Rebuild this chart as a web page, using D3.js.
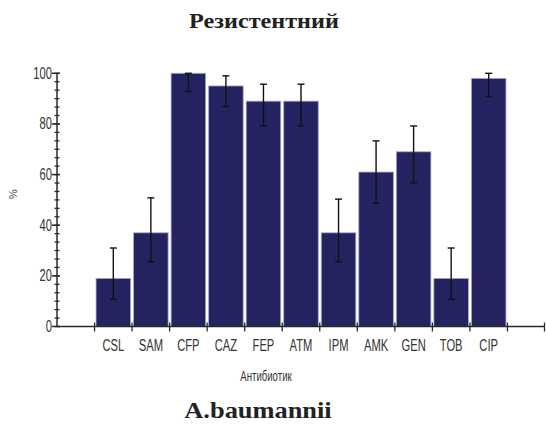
<!DOCTYPE html>
<html>
<head>
<meta charset="utf-8">
<script src="https://cdn.jsdelivr.net/npm/d3@7"></script>
<style>
  html, body { margin: 0; padding: 0; background: #fff; }
  svg { display: block; }
  .narrow { font-family: "Liberation Sans Narrow", "Arial Narrow", "Liberation Sans", sans-serif; }
  .serif { font-family: "Liberation Serif", "Times New Roman", serif; font-weight: bold; }
</style>
</head>
<body>
<svg id="chart" width="546" height="427"></svg>
<script>
// Resistance (%) by antibiotic, with error-bar bounds
const antibiotics = ["CSL", "SAM", "CFP", "CAZ", "FEP", "ATM", "IPM", "AMK", "GEN", "TOB", "CIP"];
const resistant   = [19, 37, 100, 95, 89, 89, 37, 61, 69, 19, 98];
const errLow      = [10.7, 25.5, 92.8, 86.9, 79.2, 79.2, 25.5, 48.7, 56.7, 10.7, 90.8];
const errHigh     = [31, 50.8, 100, 99, 95.7, 95.7, 50.3, 73.3, 79.2, 31, 100];
const yTicks      = [0, 20, 40, 60, 80, 100];

const chartTitle = "Резистентний";
const xTitle = "Антибиотик";
const yTitle = "%";
const caption = "A.baumannii";

const svg = d3.select("#chart");
const plot = { left: 57, right: 545, top: 73.3, bottom: 326.5 };

// one empty slot on each side of the categories
const slots = ["", ...antibiotics, " "];
const x = d3.scaleBand().domain(slots).range([plot.left, plot.right]).padding(0);
const y = d3.scaleLinear().domain([0, 100]).range([plot.bottom, plot.top]);

const axisColor = "#2a2a2a";
const barFill = "#25235f";
const barEdge = "#a6a6cc";

// condensed text: regular sans squeezed horizontally
function narrowText(g, px, py, str, size, sx, sy, anchor) {
  return g.append("text")
    .attr("class", "narrow")
    .attr("transform", `translate(${px},${py}) scale(${sx},${sy})`)
    .attr("text-anchor", anchor)
    .attr("font-size", size)
    .attr("fill", "#333")
    .text(str);
}

// bars
svg.append("g").selectAll("rect")
  .data(antibiotics)
  .join("rect")
  .attr("x", d => x(d) + 1.5)
  .attr("width", x.bandwidth() - 3)
  .attr("y", (d, i) => y(resistant[i]))
  .attr("height", (d, i) => y(0) - y(resistant[i]))
  .attr("fill", barFill)
  .attr("stroke", barEdge)
  .attr("stroke-width", 0.8);

// error bars
const eb = svg.append("g").attr("stroke", "#111").attr("stroke-width", 1.4);
antibiotics.forEach((d, i) => {
  const cx = x(d) + x.bandwidth() / 2;
  eb.append("line").attr("x1", cx).attr("x2", cx).attr("y1", y(errLow[i])).attr("y2", y(errHigh[i]));
  eb.append("line").attr("x1", cx - 3.5).attr("x2", cx + 3.5).attr("y1", y(errLow[i])).attr("y2", y(errLow[i]));
  eb.append("line").attr("x1", cx - 3.5).attr("x2", cx + 3.5).attr("y1", y(errHigh[i])).attr("y2", y(errHigh[i]));
});

// y axis with minor ticks
const minorTicks = d3.range(0, 100.001, 20 / 6);
const yAxis = svg.append("g");
yAxis.append("line")
  .attr("x1", plot.left).attr("x2", plot.left)
  .attr("y1", y(100)).attr("y2", y(0))
  .attr("stroke", axisColor).attr("stroke-width", 1.5);
yAxis.selectAll(".minor").data(minorTicks).join("line")
  .attr("class", "minor")
  .attr("x1", plot.left - 2.5).attr("x2", plot.left + 2.5)
  .attr("y1", d => y(d)).attr("y2", d => y(d))
  .attr("stroke", axisColor).attr("stroke-width", 1.3);
yAxis.selectAll(".major").data(yTicks).join("line")
  .attr("class", "major")
  .attr("x1", plot.left - 5).attr("x2", plot.left + 3)
  .attr("y1", d => y(d)).attr("y2", d => y(d))
  .attr("stroke", axisColor).attr("stroke-width", 1.5);
yTicks.forEach(d => narrowText(yAxis, plot.left - 5, y(d) + 5.5, d, 14, 0.8, 1.15, "end"));

// x axis
const xAxis = svg.append("g");
xAxis.append("line")
  .attr("x1", plot.left).attr("x2", plot.right)
  .attr("y1", plot.bottom).attr("y2", plot.bottom)
  .attr("stroke", axisColor).attr("stroke-width", 1.5);
const boundaries = slots.slice(1).map(s => x(s)).concat([plot.right - 0.5]);
xAxis.selectAll(".tick").data(boundaries).join("line")
  .attr("class", "tick")
  .attr("x1", d => d).attr("x2", d => d)
  .attr("y1", plot.bottom - 4).attr("y2", plot.bottom + 5)
  .attr("stroke", axisColor).attr("stroke-width", 1.3);
antibiotics.forEach(d => narrowText(xAxis, x(d) + x.bandwidth() / 2, plot.bottom + 24, d, 14, 0.8, 1.15, "middle"));

// axis titles
narrowText(svg, 266, 381, xTitle, 12, 0.8, 1.15, "middle");
svg.append("text").attr("class", "narrow")
  .attr("transform", "translate(17,194) rotate(-90)")
  .attr("text-anchor", "middle").attr("font-size", 11).attr("fill", "#444")
  .text(yTitle);

// titles
svg.append("text").attr("class", "serif")
  .attr("transform", "translate(264,28) scale(1.1,1)")
  .attr("text-anchor", "middle").attr("font-size", 22).attr("fill", "#222")
  .text(chartTitle);
svg.append("text").attr("class", "serif")
  .attr("transform", "translate(258,418) scale(1.1,1)")
  .attr("text-anchor", "middle").attr("font-size", 24).attr("fill", "#222")
  .text(caption);
</script>
</body>
</html>
